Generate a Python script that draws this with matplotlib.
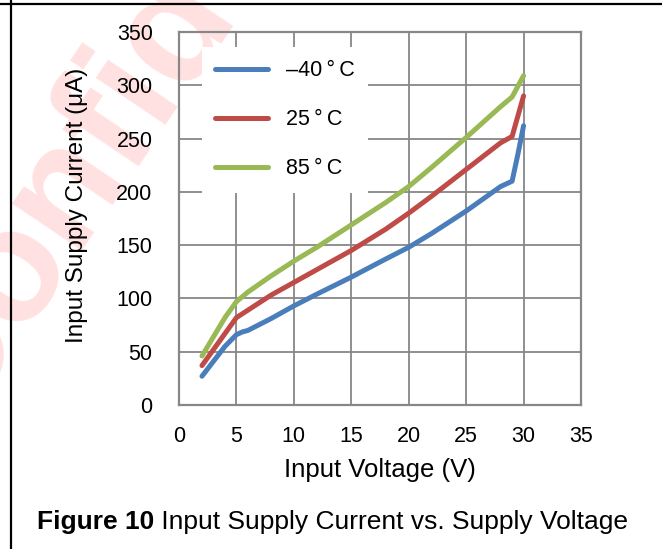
import matplotlib
matplotlib.use("Agg")
import matplotlib.pyplot as plt
from matplotlib.lines import Line2D

plt.rcParams['font.family'] = ['Liberation Sans', 'DejaVu Sans']

# data
volt_m40 = [2, 3, 4, 5, 5.5, 6, 8, 10, 12, 15, 18, 20, 22, 25, 28, 29, 29.5, 30]
curr_m40 = [27, 41, 55, 66, 68.5, 70, 81, 93, 104, 120, 137, 148, 161, 182, 205, 210, 235, 262]
volt_25 = [2, 3, 4, 5, 6, 8, 10, 12, 15, 18, 20, 22, 25, 28, 29, 30]
curr_25 = [37, 52, 67, 82, 89, 103, 115, 127, 145, 165, 180, 196, 221, 246, 252, 290]
volt_85 = [2, 3, 4, 5, 6, 8, 10, 12, 15, 18, 20, 22, 25, 28, 29, 30]
curr_85 = [46, 64, 82, 97, 106, 121, 135, 148, 169, 190, 205, 223, 251, 280, 289, 309]
labels = ['\u201340\u2009\u00b0\u2009C', '25\u2009\u00b0\u2009C', '85\u2009\u00b0\u2009C']
colors = ['#4A7EBB', '#BE4B48', '#98B954']
x_ticks = [0, 5, 10, 15, 20, 25, 30, 35]
y_ticks = [0, 50, 100, 150, 200, 250, 300, 350]

W, H = 662, 549
fig = plt.figure(figsize=(W / 100, H / 100), dpi=100)

# faint watermark, mostly off the left edge
fig.text(-45 / W, 1 - 430 / H, 'Confidential', fontsize=115, fontweight='bold', color='#ff0000',
         alpha=0.12, rotation=56, rotation_mode='anchor', ha='left', va='baseline', zorder=-3)
# frame lines
fig.add_artist(Line2D([0, 1], [1 - 4 / H] * 2, transform=fig.transFigure, color='black', lw=1.6))
fig.add_artist(Line2D([10.5 / W] * 2, [0, 1], transform=fig.transFigure, color='black', lw=1.6))

ax = fig.add_axes([179 / W, 1 - 405 / H, 402 / W, 373 / H])
ax.patch.set_alpha(0)
grid_c = '#878787'
for xs, ys, c, lab in zip([volt_m40, volt_25, volt_85], [curr_m40, curr_25, curr_85], colors, labels):
    ax.plot(xs, ys, color=c, lw=3.6, solid_capstyle='round', solid_joinstyle='round',
            label=lab, zorder=3)

ax.set_xlim(0, 35)
ax.set_ylim(0, 350)
ax.set_xticks(x_ticks)
ax.set_yticks(y_ticks)
ax.grid(True, color=grid_c, lw=1.3)
ax.set_axisbelow(True)
for s in ax.spines.values():
    s.set_color(grid_c)
    s.set_linewidth(1.6)
ax.tick_params(length=0, labelsize=15.5, colors='black')
ax.tick_params(axis='x', pad=15)
ax.tick_params(axis='y', pad=19)

ax.set_xlabel('Input Voltage (V)', fontsize=18.5, labelpad=8)
ax.set_ylabel('Input Supply Current (\u03bcA)', fontsize=17.5)
ax.yaxis.set_label_coords((88 - 179) / 402, (405 - 205) / 373)

leg = ax.legend(loc='upper left', bbox_to_anchor=(23 / 402, (405 - 47) / 373), fontsize=15.5,
                frameon=True, fancybox=False, edgecolor='none', framealpha=1, handlelength=2.45,
                handletextpad=0.85, labelspacing=1.3, borderpad=0.62, borderaxespad=0)
for h in leg.legend_handles:
    h.set_linewidth(3.6)

t1 = fig.text(37 / W, 1 - 522 / H, 'Figure 10', fontsize=19, fontweight='bold', va='center', ha='left')
fig.canvas.draw()
bb = t1.get_window_extent()
fig.text(bb.x1 / W, 1 - 522 / H, ' Input Supply Current vs. Supply Voltage', fontsize=19,
         va='center', ha='left')

fig.savefig('out.png', dpi=100)
